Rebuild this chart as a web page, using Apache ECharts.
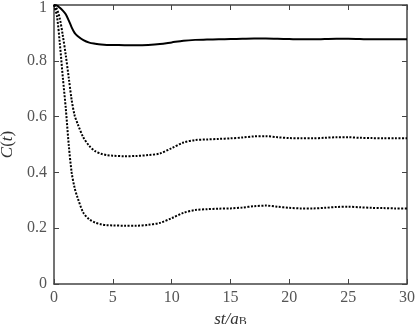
<!DOCTYPE html>
<html>
<head>
<meta charset="utf-8">
<script src="https://cdn.jsdelivr.net/npm/echarts@6/dist/echarts.min.js"></script>
<style>html,body{margin:0;padding:0;background:#fff}#c{width:415px;height:324px}</style>
</head>
<body>
<div id="c"></div>
<script>
var xs = [0,0.25,0.5,0.75,1,1.25,1.5,1.75,2,2.5,3,3.5,4,4.5,5,6,7,8,9,10,11,12,13,14,15,16,17,18,19,20,21,22,23,24,25,26,27,28,29,30];
var solid = [1,0.998,0.99,0.98,0.967,0.945,0.92,0.90,0.889,0.874,0.865,0.861,0.858,0.857,0.857,0.856,0.856,0.857,0.860,0.866,0.872,0.875,0.876,0.877,0.878,0.879,0.880,0.880,0.879,0.878,0.877,0.877,0.878,0.879,0.879,0.878,0.877,0.877,0.877,0.877];
var middle = [1,0.985,0.95,0.89,0.82,0.74,0.66,0.605,0.575,0.525,0.495,0.476,0.467,0.462,0.460,0.458,0.459,0.462,0.468,0.487,0.507,0.516,0.518,0.520,0.522,0.525,0.529,0.530,0.526,0.523,0.522,0.522,0.524,0.526,0.526,0.524,0.523,0.522,0.522,0.522];
var lower = [1,0.96,0.86,0.74,0.63,0.50,0.40,0.345,0.31,0.255,0.232,0.220,0.214,0.211,0.210,0.209,0.209,0.212,0.219,0.236,0.255,0.265,0.268,0.270,0.271,0.274,0.279,0.281,0.277,0.273,0.271,0.271,0.273,0.276,0.277,0.275,0.273,0.272,0.271,0.271];
var xTicks = [0,5,10,15,20,25,30];
var yTicks = [0,0.2,0.4,0.6,0.8,1];

function pairs(ys){ return xs.map(function(x,i){ return [x, ys[i]]; }); }
var font = 'Liberation Serif';
var axisCol = '#444';
var lineSty = {color: axisCol, width: 1.5};
var chart = echarts.init(document.getElementById('c'));
function xAx(pos, show){
  return {type:'value', position:pos, min:0, max:30, interval:5,
    axisLine:{show:true, onZero:false, lineStyle:lineSty},
    axisTick:{show:true, inside:true, length:5, lineStyle:{color:axisCol,width:1}},
    axisLabel:{show:show, margin:6, fontFamily:font, fontSize:16, color:'#555',
      formatter:function(v){return xTicks.indexOf(v)>=0?String(v):'';}},
    splitLine:{show:false}};
}
function yAx(pos, show){
  return {type:'value', position:pos, min:0, max:1, interval:0.2,
    axisLine:{show:true, onZero:false, lineStyle:lineSty},
    axisTick:{show:true, inside:true, length:5, lineStyle:{color:axisCol,width:1}},
    axisLabel:{show:show, margin:7, fontFamily:font, fontSize:16, color:'#555',
      rich:{t:{fontFamily:font, fontSize:16, color:'#555', padding:[5,0,0,0]}},
      formatter:function(v){ var r=Math.round(v*10)/10; if(r===1) return '{t|1}'; return yTicks.indexOf(r)>=0?String(r):''; }},
    splitLine:{show:false}};
}
var xa = xAx('bottom', true);
xa.name = '{i|st/a}{s|B}';
xa.nameLocation = 'middle';
xa.nameGap = 21;
xa.nameTextStyle = {rich:{
  i:{fontFamily:font, fontStyle:'italic', fontSize:17, color:'#333'},
  s:{fontFamily:font, fontSize:12, color:'#333', padding:[4,0,0,0]}}};
var ya = yAx('left', true);
ya.name = '{i|C}{n|(}{i|t}{n|)}';
ya.nameLocation = 'middle';
ya.nameGap = 35;
ya.nameTextStyle = {rich:{
  i:{fontFamily:font, fontStyle:'italic', fontSize:17, color:'#333'},
  n:{fontFamily:font, fontSize:17, color:'#333'}}};
var xb = xAx('top', false); xb.axisLabel.show=false;
var yb = yAx('right', false); yb.axisLabel.show=false;
chart.setOption({
  animation:false,
  backgroundColor:'#fff',
  grid:{left:54, right:8, top:5, bottom:40, containLabel:false, outerBoundsMode:'none'},
  xAxis:[xa, xb],
  yAxis:[ya, yb],
  series:[
    {type:'line', data:pairs(solid), smooth:0.3, symbol:'none', lineStyle:{color:'#000', width:2}},
    {type:'line', data:pairs(middle), smooth:0.3, symbol:'none', lineStyle:{color:'#000', width:2, type:[2,1.5]}},
    {type:'line', data:pairs(lower), smooth:0.3, symbol:'none', lineStyle:{color:'#000', width:2, type:[2,1.5]}}
  ]
});
</script>
</body>
</html>
